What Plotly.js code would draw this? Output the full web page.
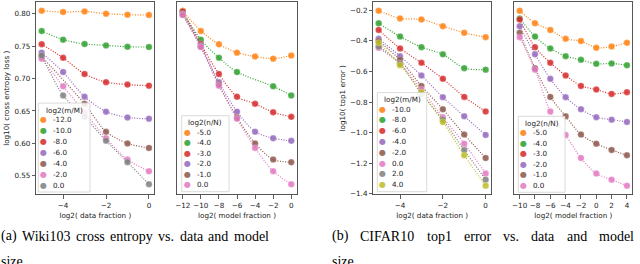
<!DOCTYPE html>
<html><head><meta charset="utf-8">
<script src="https://cdn.plot.ly/plotly-3.0.1.min.js"></script>
<style>html,body{margin:0;padding:0;background:#fff;}#chart{width:640px;height:264px;}</style>
</head><body><div id="chart"></div>
<script>
// tab10 colours (blue skipped as in the reference)
const colors = ['#ff7f0e','#2ca02c','#d62728','#9467bd','#8c564b','#e377c2','#7f7f7f','#bcbd22'];

// ---- Wiki103: log10(cross entropy loss) ----
const wikiDataFrac  = [-5, -4, -3, -2, -1, 0];            // log2(n/N)
const wikiModelFrac = [-12, -10, -8, -6, -4, -2, 0];      // log2(m/M)
const wiki_m_neg12 = [0.8046, 0.8026, 0.8036, 0.8000, 0.7985, 0.7980];
const wiki_m_neg10 = [0.7733, 0.7600, 0.7533, 0.7512, 0.7490, 0.7487];
const wiki_m_neg8  = [0.7530, 0.7320, 0.7070, 0.6945, 0.6907, 0.6890];
const wiki_m_neg6  = [0.7400, 0.7100, 0.6720, 0.6490, 0.6400, 0.6380];
const wiki_m_neg4  = [0.7340, null,   0.6610, 0.6180, 0.6000, 0.5930];
const wiki_m_neg2  = [0.7307, 0.6880, 0.6480, 0.6080, 0.5750, 0.5570];
const wiki_m_0     = [0.7355, 0.6740, 0.6410, 0.6040, 0.5710, 0.5370];
const wikiLoss = [wiki_m_neg12, wiki_m_neg10, wiki_m_neg8, wiki_m_neg6, wiki_m_neg4, wiki_m_neg2, wiki_m_0];

// ---- CIFAR10: log10(top1 error) ----
const cifarDataFrac  = [-5, -4, -3, -2, -1, 0];                 // log2(n/N)
const cifarModelFrac = [-10, -8, -6, -4, -2, 0, 2, 4];          // log2(m/M)
const cifar_m_neg10 = [-0.2022, -0.2525, -0.2590, -0.3030, -0.3470, -0.3750];
const cifar_m_neg8  = [-0.2840, -0.3716, -0.4405, -0.4874, -0.5780, -0.5880];
const cifar_m_neg6  = [-0.3280, -0.4490, -0.5430, -0.6480, -0.7660, -0.8620];
const cifar_m_neg4  = [-0.3860, -0.4995, -0.6260, -0.7680, -0.8930, -1.0150];
const cifar_m_neg2  = [-0.4010, -0.5235, -0.6940, -0.8470, -1.0130, -1.1660];
const cifar_m_0     = [-0.4450, -0.5497, -0.7180, -0.8995, -1.0720, -1.2680];
const cifar_m_2     = [-0.4360, -0.5475, -0.7465, -0.9150, -1.1140, -1.3080];
const cifar_m_4     = [-0.4120, -0.5585, -0.7355, -0.9300, -1.1480, -1.3475];
const cifarErr = [cifar_m_neg10, cifar_m_neg8, cifar_m_neg6, cifar_m_neg4, cifar_m_neg2, cifar_m_0, cifar_m_2, cifar_m_4];

const wikiTicksY  = [0.55, 0.60, 0.65, 0.70, 0.75, 0.80];
const cifarTicksY = [-1.4, -1.2, -1.0, -0.8, -0.6, -0.4, -0.2];

const captionA = '(a) Wiki103 cross entropy vs. data and model';
const captionB = '(b) CIFAR10 top1 error vs. data and model';
const captionEnd = 'size';

const W = 640, H = 264;
const FONT = 'DejaVu Sans';
const traces = [];

function mk(x, y, ci, xa, ya) {
  return {
    x: x, y: y, xaxis: xa, yaxis: ya, type: 'scatter', mode: 'lines+markers',
    connectgaps: true, showlegend: false, hoverinfo: 'skip',
    line: {color: colors[ci], width: 1.2, dash: '1px,1.6px', shape: 'spline', smoothing: 0.8},
    marker: {color: colors[ci], size: 6.5, opacity: 0.85, line: {color: 'rgba(255,255,255,0.6)', width: 0.5}}
  };
}

wikiLoss.forEach((row, i) => traces.push(mk(wikiDataFrac, row, i, 'x', 'y')));
wikiDataFrac.forEach((n, j) => traces.push(mk(wikiModelFrac, wikiLoss.map(r => r[j]), j, 'x2', 'y2')));
cifarErr.forEach((row, i) => traces.push(mk(cifarDataFrac, row, i, 'x3', 'y3')));
cifarDataFrac.forEach((n, j) => traces.push(mk(cifarModelFrac, cifarErr.map(r => r[j]), j, 'x4', 'y4')));

const px = v => v / W, py = v => 1 - v / H;
const yDom = [py(194.5), py(2)];

function xax(domL, domR, range, tickvals, title, anchor) {
  return {
    domain: [px(domL), px(domR)], range: range, tickvals: tickvals, ticks: 'outside', ticklen: 3.5, tickwidth: 0.8,
    tickcolor: '#333', showline: true, mirror: true, linecolor: '#444', linewidth: 0.9, anchor: anchor,
    showgrid: false, zeroline: false, tickfont: {family: FONT, size: 7.2, color: '#222'},
    title: {text: title, font: {family: FONT, size: 7.2, color: '#222'}, standoff: 4}
  };
}
function yax(range, tickvals, fmt, title, anchor) {
  const a = {
    domain: yDom, range: range, showline: true, mirror: true, linecolor: '#444', linewidth: 0.9,
    showgrid: false, zeroline: false, anchor: anchor
  };
  if (tickvals) {
    Object.assign(a, {tickvals: tickvals, tickformat: fmt, ticks: 'outside', ticklen: 3.5, tickwidth: 0.8,
      tickcolor: '#333', tickfont: {family: FONT, size: 7.2, color: '#222'},
      title: {text: title, font: {family: FONT, size: 7.2, color: '#222'}, standoff: 3}});
  } else {
    Object.assign(a, {showticklabels: false, ticks: ''});
  }
  return a;
}

const wikiRange = [0.5212, 0.8181];
const cifarRange = [-1.405, -0.145];

const layout = {
  width: W, height: H, margin: {l: 0, r: 0, t: 0, b: 0}, paper_bgcolor: '#fff', plot_bgcolor: '#fff',
  showlegend: false,
  xaxis:  xax(36.3, 154.3, [-5.25, 0.25], [-4, -2, 0], 'log2( data fraction )', 'y'),
  xaxis2: xax(177.3, 296.7, [-12.6, 0.6], [-12, -10, -8, -6, -4, -2, 0], 'log2( model fraction )', 'y2'),
  xaxis3: xax(373.3, 491, [-5.25, 0.25], [-4, -2, 0], 'log2( data fraction )', 'y3'),
  xaxis4: xax(514.3, 632.3, [-10.7, 4.7], [-10, -8, -6, -4, -2, 0, 2, 4], 'log2( model fraction )', 'y4'),
  yaxis:  yax(wikiRange, wikiTicksY, '.2f', 'log10( cross entropy loss )', 'x'),
  yaxis2: yax(wikiRange, null, null, null, 'x2'),
  yaxis3: yax(cifarRange, cifarTicksY, '.1f', 'log10( top1 error )', 'x3'),
  yaxis4: yax(cifarRange, null, null, null, 'x4'),
  shapes: [], annotations: []
};

function addLegend(left, width, bottom, spacing, title, labels) {
  const n = labels.length;
  const last = bottom - 7;
  const first = last - (n - 1) * spacing;
  const titleY = first - 9.5;
  const top = titleY - 7;
  layout.shapes.push({type: 'rect', xref: 'paper', yref: 'paper', x0: px(left), x1: px(left + width),
    y0: py(bottom), y1: py(top), line: {color: '#d0d0d0', width: 0.8}, fillcolor: 'rgba(255,255,255,0.85)', layer: 'above'});
  layout.annotations.push({xref: 'paper', yref: 'paper', x: px(left + width / 2), y: py(titleY), text: title,
    showarrow: false, xanchor: 'center', yanchor: 'middle', font: {family: FONT, size: 7.2, color: '#222'}});
  labels.forEach((lab, i) => {
    const yc = first + i * spacing;
    layout.annotations.push({xref: 'paper', yref: 'paper', x: px(left + 5.5), y: py(yc), text: '●',
      showarrow: false, xanchor: 'center', yanchor: 'middle', font: {family: FONT, size: 8, color: colors[i]}, opacity: 0.85});
    layout.annotations.push({xref: 'paper', yref: 'paper', x: px(left + 13), y: py(yc), text: lab,
      showarrow: false, xanchor: 'left', yanchor: 'middle', font: {family: FONT, size: 7.2, color: '#222'}});
  });
}
const lab = v => (v < 0 ? '-' : '') + Math.abs(v).toFixed(1);
addLegend(38.3, 51.7, 192, 10.9, 'log2(m/M)', wikiModelFrac.map(lab));
addLegend(181.7, 47.3, 191.7, 10.5, 'log2(n/N)', wikiDataFrac.map(lab));
addLegend(377.3, 49.4, 191.7, 10.8, 'log2(m/M)', cifarModelFrac.map(lab));
addLegend(518.3, 46.7, 192.3, 10.5, 'log2(n/N)', cifarDataFrac.map(lab));

// captions: justified lines (words spread across the column width)
const CAP_FAMILY = 'Liberation Serif', CAP_SIZE = 14;
const capFont = {family: CAP_FAMILY, size: CAP_SIZE, color: '#000'};
const ctx = document.createElement('canvas').getContext('2d');
ctx.font = CAP_SIZE + 'px "' + CAP_FAMILY + '"';
function justified(text, left, right, yc) {
  const words = text.split(' ');
  const widths = words.map(w => ctx.measureText(w).width);
  const total = widths.reduce((a, b) => a + b, 0);
  const gap = (right - left - total) / (words.length - 1);
  let x = left;
  words.forEach((w, i) => {
    layout.annotations.push({xref: 'paper', yref: 'paper', x: px(x), y: py(yc), text: w, showarrow: false,
      xanchor: 'left', yanchor: 'middle', font: capFont, borderpad: 0});
    x += widths[i] + gap;
  });
}
justified(captionA, 0, 268, 236);
justified(captionB, 331, 633, 236);
[[captionEnd, 0], [captionEnd, 331]].forEach(c => {
  layout.annotations.push({xref: 'paper', yref: 'paper', x: px(c[1]), y: py(261), text: c[0], showarrow: false,
    xanchor: 'left', yanchor: 'middle', font: capFont, borderpad: 0});
});

Plotly.newPlot('chart', traces, layout, {staticPlot: true, displayModeBar: false});
</script></body></html>
